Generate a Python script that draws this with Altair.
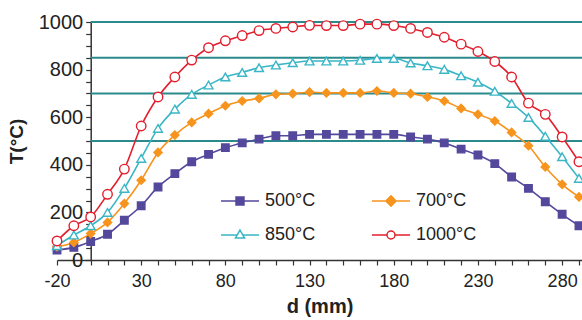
import altair as alt
import pandas as pd

FONT = "Liberation Sans"

# ---- data ----
d_mm = list(range(-20, 300, 10))  # -20 ... 290
t500 = [42, 53, 78, 108, 167, 228, 307, 363, 413, 444, 472, 492, 508, 522, 522, 528,
        528, 528, 528, 528, 528, 517, 508, 492, 466, 441, 405, 349, 301, 245, 192, 144]
t700 = [56, 74, 111, 158, 237, 335, 452, 525, 578, 615, 648, 668, 679, 696, 699, 705,
        702, 702, 702, 710, 702, 699, 685, 668, 637, 612, 584, 536, 480, 391, 318, 265]
t850 = [60, 105, 144, 200, 301, 427, 553, 634, 696, 735, 769, 788, 808, 819, 829, 836,
        836, 836, 839, 847, 847, 828, 816, 801, 774, 747, 709, 658, 599, 520, 434, 343]
t1000 = [80, 144, 181, 276, 382, 563, 685, 769, 840, 892, 921, 943, 964, 973, 979, 986,
         985, 985, 991, 991, 985, 973, 956, 936, 907, 876, 834, 769, 659, 612, 517, 413]

series = ["500°C", "700°C", "850°C", "1000°C"]
colors = ["#54489c", "#f7941e", "#3ab6c6", "#e31e2d"]
fills = ["#54489c", "#f7941e", "#ffffff", "#ffffff"]
shapes = ["square", "diamond", "triangle-up", "circle"]
marker_sizes = [56, 90, 81, 64]
legend_paths = [
    "M-1,0H-0.21M0.21,0H1M-0.21,-0.21H0.21V0.21H-0.21Z",
    "M-1,0H-0.26M0.26,0H1M0,-0.27L0.27,0L0,0.27L-0.27,0Z",
    "M-1,0H-0.15M0.15,0H1M0,-0.26L0.24,0.16L-0.24,0.16Z",
    "M-1,0H-0.21M0.21,0H1M-0.21,0A0.21,0.21 0 1,0 0.21,0A0.21,0.21 0 1,0 -0.21,0Z",
]
ref_levels = [500, 700, 850, 1000]

x_ticks = list(range(-20, 300, 10))
y_ticks = list(range(0, 1001, 50))

rows = []
for name, vals in zip(series, [t500, t700, t850, t1000]):
    for d, t in zip(d_mm, vals):
        rows.append({"d": d, "T": t, "series": name})
df = pd.DataFrame(rows)

X_MIN, X_MAX = -20, 291.8
ref_df = pd.DataFrame({"T": ref_levels, "x0": [0] * len(ref_levels),
                       "x1": [X_MAX] * len(ref_levels)})

x_scale = alt.Scale(domain=[X_MIN, X_MAX], nice=False, zero=False)
y_scale = alt.Scale(domain=[0, 1000], nice=False)

x_axis = alt.Axis(
    values=x_ticks,
    labelExpr="(datum.value + 20) % 50 == 0 ? '' + datum.value : ''",
    grid=False, domainColor="#333333", domainWidth=1.5, tickColor="#333333",
    tickWidth=1.2, tickSize=5, labelFont=FONT, labelFontSize=18, labelColor="#222222",
    labelPadding=7, labelFlush=False, labelOverlap=False,
    titleFont=FONT, titleFontSize=20, titleFontWeight="bold", titleColor="#222222",
    titlePadding=6,
)
y_axis = alt.Axis(
    values=y_ticks,
    labelExpr="datum.value % 200 == 0 ? '' + datum.value : ''",
    grid=False, offset=-33.7, domainColor="#333333", domainWidth=1.5,
    tickColor="#333333", tickWidth=1.2, tickSize=5, labelFont=FONT, labelFontSize=20,
    labelColor="#222222", labelPadding=3, labelFlush=False, labelOverlap=False,
    titleFont=FONT, titleFontSize=19, titleFontWeight="bold", titleColor="#222222",
    titlePadding=12,
)

X = alt.X("d:Q", scale=x_scale, axis=x_axis, title="d (mm)")
Y = alt.Y("T:Q", scale=y_scale, axis=y_axis, title="T(°C)")

stroke_scale = alt.Scale(domain=series, range=colors)
fill_scale = alt.Scale(domain=series, range=fills)

rules = alt.Chart(ref_df).mark_rule(color="#2a8a8c", strokeWidth=2).encode(
    x=alt.X("x0:Q", scale=x_scale, axis=x_axis, title="d (mm)"),
    x2="x1:Q",
    y=alt.Y("T:Q", scale=y_scale, axis=y_axis, title="T(°C)"),
)

lines = alt.Chart(df).mark_line(interpolate="monotone", strokeWidth=1.6).encode(
    x=X, y=Y,
    stroke=alt.Stroke("series:N", scale=stroke_scale, legend=None),
)

points = alt.Chart(df).mark_point(filled=True, opacity=1, strokeWidth=1.4).encode(
    x=X, y=Y,
    stroke=alt.Stroke("series:N", scale=stroke_scale, legend=None),
    fill=alt.Fill("series:N", scale=fill_scale, legend=None),
    shape=alt.Shape("series:N", scale=alt.Scale(domain=series, range=shapes), legend=None),
    size=alt.Size("series:N", scale=alt.Scale(domain=series, range=marker_sizes), legend=None),
)

leg = alt.Legend(
    title=None, orient="none", legendX=163, legendY=159, columns=2,
    direction="horizontal",
    columnPadding=53, rowPadding=5, symbolSize=1444, symbolStrokeWidth=1.5,
    labelFont=FONT, labelFontSize=18, labelColor="#222222", labelOffset=5,
    labelLimit=200,
)

legend_layer = alt.Chart(df).transform_filter("false").mark_point(
    filled=True, opacity=1, strokeWidth=1.5
).encode(
    x=X, y=Y,
    stroke=alt.Stroke("series:N", scale=stroke_scale, legend=leg),
    fill=alt.Fill("series:N", scale=fill_scale, legend=leg),
    shape=alt.Shape("series:N", scale=alt.Scale(domain=series, range=legend_paths), legend=leg),
)

chart = alt.layer(rules, lines, points, legend_layer).resolve_scale(
    shape="independent", fill="independent", stroke="independent", size="independent"
).properties(
    width=525, height=238,
    autosize=alt.AutoSizeParams(type="none"),
    padding={"left": 57, "top": 22, "right": 0, "bottom": 60},
    background="white",
).configure_view(stroke=None)

chart.save("out.html", embed_options={"renderer": "svg", "actions": False})
